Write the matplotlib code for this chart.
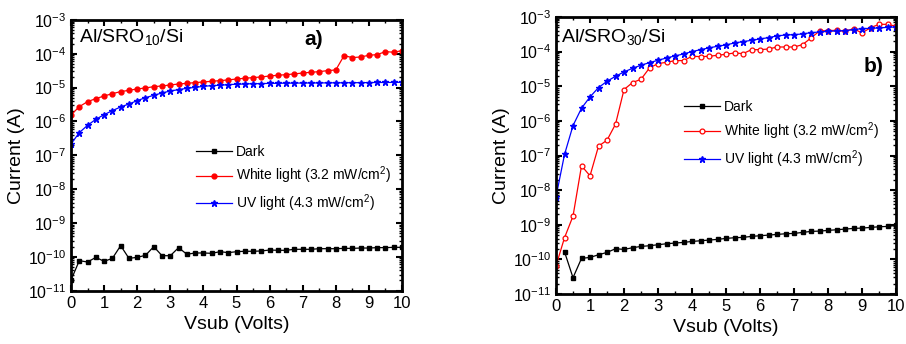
import numpy as np
import matplotlib
matplotlib.use("Agg")
import matplotlib.pyplot as plt
from matplotlib.ticker import LogLocator, MultipleLocator, NullFormatter

plt.rcParams['font.family'] = ['Liberation Sans', 'DejaVu Sans']
plt.rcParams['mathtext.fontset'] = 'custom'
plt.rcParams['mathtext.rm'] = 'Liberation Sans'
plt.rcParams['mathtext.it'] = 'Liberation Sans:italic'
plt.rcParams['mathtext.bf'] = 'Liberation Sans:bold'

vsub = np.arange(0, 10.01, 0.25)

# Panel a) Al/SRO10/Si
dark_a = [2.07e-11, 7.71e-11, 7.03e-11, 9.66e-11, 7.36e-11, 9.03e-11, 2.14e-10, 9.03e-11,
          9.66e-11, 1.11e-10, 2.00e-10, 1.08e-10, 1.08e-10, 1.87e-10, 1.19e-10, 1.30e-10,
          1.30e-10, 1.27e-10, 1.42e-10, 1.33e-10, 1.42e-10, 1.46e-10, 1.46e-10, 1.49e-10,
          1.59e-10, 1.56e-10, 1.56e-10, 1.67e-10, 1.67e-10, 1.67e-10, 1.74e-10, 1.74e-10,
          1.74e-10, 1.78e-10, 1.78e-10, 1.82e-10, 1.82e-10, 1.87e-10, 1.87e-10, 1.91e-10,
          1.91e-10]
white_a = [1.56e-6, 2.74e-6, 3.86e-6, 4.73e-6, 5.67e-6, 6.65e-6, 7.62e-6, 8.34e-6,
           9.14e-6, 9.77e-6, 1.07e-5, 1.12e-5, 1.20e-5, 1.28e-5, 1.34e-5, 1.41e-5,
           1.47e-5, 1.54e-5, 1.61e-5, 1.69e-5, 1.80e-5, 1.89e-5, 1.98e-5, 2.07e-5,
           2.21e-5, 2.32e-5, 2.42e-5, 2.54e-5, 2.71e-5, 2.84e-5, 2.97e-5, 3.18e-5,
           3.33e-5, 8.83e-5, 7.71e-5, 8.06e-5, 9.04e-5, 9.45e-5, 1.16e-4, 1.11e-4,
           1.24e-4]
uv_a = [2.16e-7, 4.68e-7, 7.71e-7, 1.16e-6, 1.59e-6, 2.09e-6, 2.69e-6, 3.29e-6,
        4.13e-6, 5.06e-6, 5.93e-6, 6.95e-6, 7.96e-6, 8.73e-6, 9.55e-6, 1.02e-5,
        1.09e-5, 1.15e-5, 1.17e-5, 1.23e-5, 1.26e-5, 1.28e-5, 1.31e-5, 1.31e-5,
        1.34e-5, 1.34e-5, 1.36e-5, 1.36e-5, 1.37e-5, 1.37e-5, 1.38e-5, 1.38e-5,
        1.39e-5, 1.39e-5, 1.40e-5, 1.40e-5, 1.41e-5, 1.42e-5, 1.42e-5, 1.43e-5,
        1.44e-5]

# Panel b) Al/SRO30/Si
dark_b = [np.nan, 1.66e-10, 2.96e-11, 1.07e-10, 1.14e-10, 1.36e-10, 1.59e-10, 2.03e-10,
          1.94e-10, 2.17e-10, 2.37e-10, 2.48e-10, 2.65e-10, 2.83e-10, 2.96e-10, 3.09e-10,
          3.30e-10, 3.45e-10, 3.61e-10, 3.78e-10, 4.04e-10, 4.22e-10, 4.32e-10, 4.61e-10,
          4.82e-10, 5.03e-10, 5.26e-10, 5.50e-10, 5.62e-10, 6.01e-10, 6.43e-10, 6.56e-10,
          6.87e-10, 7.18e-10, 7.50e-10, 7.84e-10, 8.02e-10, 8.38e-10, 8.75e-10, 8.95e-10,
          9.57e-10]
white_b = [6.56e-11, 4.22e-10, 1.78e-9, 5.04e-8, 2.59e-8, 1.86e-7, 2.77e-7, 8.02e-7,
           8.02e-6, 1.28e-5, 1.59e-5, 3.38e-5, 4.51e-5, 4.92e-5, 5.50e-5, 5.50e-5,
           7.33e-5, 7.17e-5, 7.33e-5, 7.84e-5, 8.38e-5, 9.16e-5, 8.75e-5, 1.14e-4,
           1.14e-4, 1.19e-4, 1.36e-4, 1.36e-4, 1.36e-4, 1.59e-4, 2.48e-4, 3.94e-4,
           4.04e-4, 4.12e-4, 3.86e-4, 4.61e-4, 3.45e-4, 4.92e-4, 6.14e-4, 6.14e-4,
           5.38e-4]
uv_b = [6.43e-9, 1.07e-7, 7.33e-7, 2.32e-6, 4.92e-6, 9.16e-6, 1.39e-5, 1.94e-5,
        2.59e-5, 3.30e-5, 4.04e-5, 4.82e-5, 5.62e-5, 6.56e-5, 7.50e-5, 8.57e-5,
        1.00e-4, 1.14e-4, 1.28e-4, 1.43e-4, 1.56e-4, 1.78e-4, 1.94e-4, 2.12e-4,
        2.32e-4, 2.54e-4, 2.83e-4, 3.03e-4, 3.09e-4, 3.24e-4, 3.53e-4, 3.69e-4,
        3.86e-4, 3.94e-4, 4.04e-4, 4.31e-4, 4.61e-4, 4.71e-4, 4.82e-4, 5.03e-4,
        5.15e-4]

labels = ['Dark', 'White light (3.2 mW/cm$^2$)', 'UV light (4.3 mW/cm$^2$)']

fig = plt.figure(figsize=(9.06, 3.44), dpi=100)
ax1 = fig.add_axes([0.0784, 0.155, 0.3653, 0.787])
ax2 = fig.add_axes([0.6137, 0.1453, 0.3753, 0.8053])


def style(ax):
    ax.set_yscale('log')
    ax.set_xlim(0, 10)
    ax.set_ylim(1e-11, 1e-3)
    ax.xaxis.set_major_locator(MultipleLocator(1))
    ax.xaxis.set_minor_locator(MultipleLocator(0.5))
    ax.yaxis.set_major_locator(LogLocator(base=10, numticks=20))
    ax.yaxis.set_minor_locator(LogLocator(base=10, subs=np.arange(2, 10), numticks=20))
    ax.yaxis.set_minor_formatter(NullFormatter())
    ax.tick_params(which='both', direction='in', top=True, right=True, labelsize=12)
    ax.tick_params(which='major', length=4, width=1.5)
    ax.tick_params(which='minor', length=2.5, width=1)
    ax.tick_params(axis='y', labelsize=11.5)
    for s in ax.spines.values():
        s.set_linewidth(2)
    ax.set_xlabel('Vsub (Volts)', fontsize=14, labelpad=4)
    ax.set_ylabel('Current (A)', fontsize=14, labelpad=2)


style(ax1)
style(ax2)

ax1.plot(vsub, dark_a, '-', color='black', marker='s', ms=3, lw=0.9, label=labels[0])
ax1.plot(vsub, white_a, '-', color='red', marker='o', ms=3.5, lw=0.9, label=labels[1])
ax1.plot(vsub, uv_a, '-', color='blue', marker='*', ms=4.5, lw=0.9, label=labels[2])

ax2.plot(vsub, dark_b, '-', color='black', marker='s', ms=3, lw=0.9, label=labels[0])
ax2.plot(vsub, white_b, '-', color='red', marker='o', ms=3.5, lw=0.9, mfc='white', mew=0.9,
         label=labels[1])
ax2.plot(vsub, uv_b, '-', color='blue', marker='*', ms=4.5, lw=0.9, label=labels[2])

for ax, anchor in ((ax1, (0.36, 0.56)), (ax2, (0.36, 0.72))):
    ax.legend(loc='upper left', bbox_to_anchor=anchor, frameon=False, fontsize=10,
              handlelength=2.6, handletextpad=0.3, labelspacing=0.45, borderaxespad=0)

ax1.text(0.024, 0.975, 'Al/SRO$_{10}$/Si', transform=ax1.transAxes, fontsize=14,
         va='top', ha='left')
ax1.text(0.705, 0.926, 'a)', transform=ax1.transAxes, fontsize=15, fontweight='bold',
         va='center', ha='left')
ax2.text(0.015, 0.965, 'Al/SRO$_{30}$/Si', transform=ax2.transAxes, fontsize=14,
         va='top', ha='left')
ax2.text(0.905, 0.823, 'b)', transform=ax2.transAxes, fontsize=15, fontweight='bold',
         va='center', ha='left')

fig.savefig('out.png', dpi=100)
